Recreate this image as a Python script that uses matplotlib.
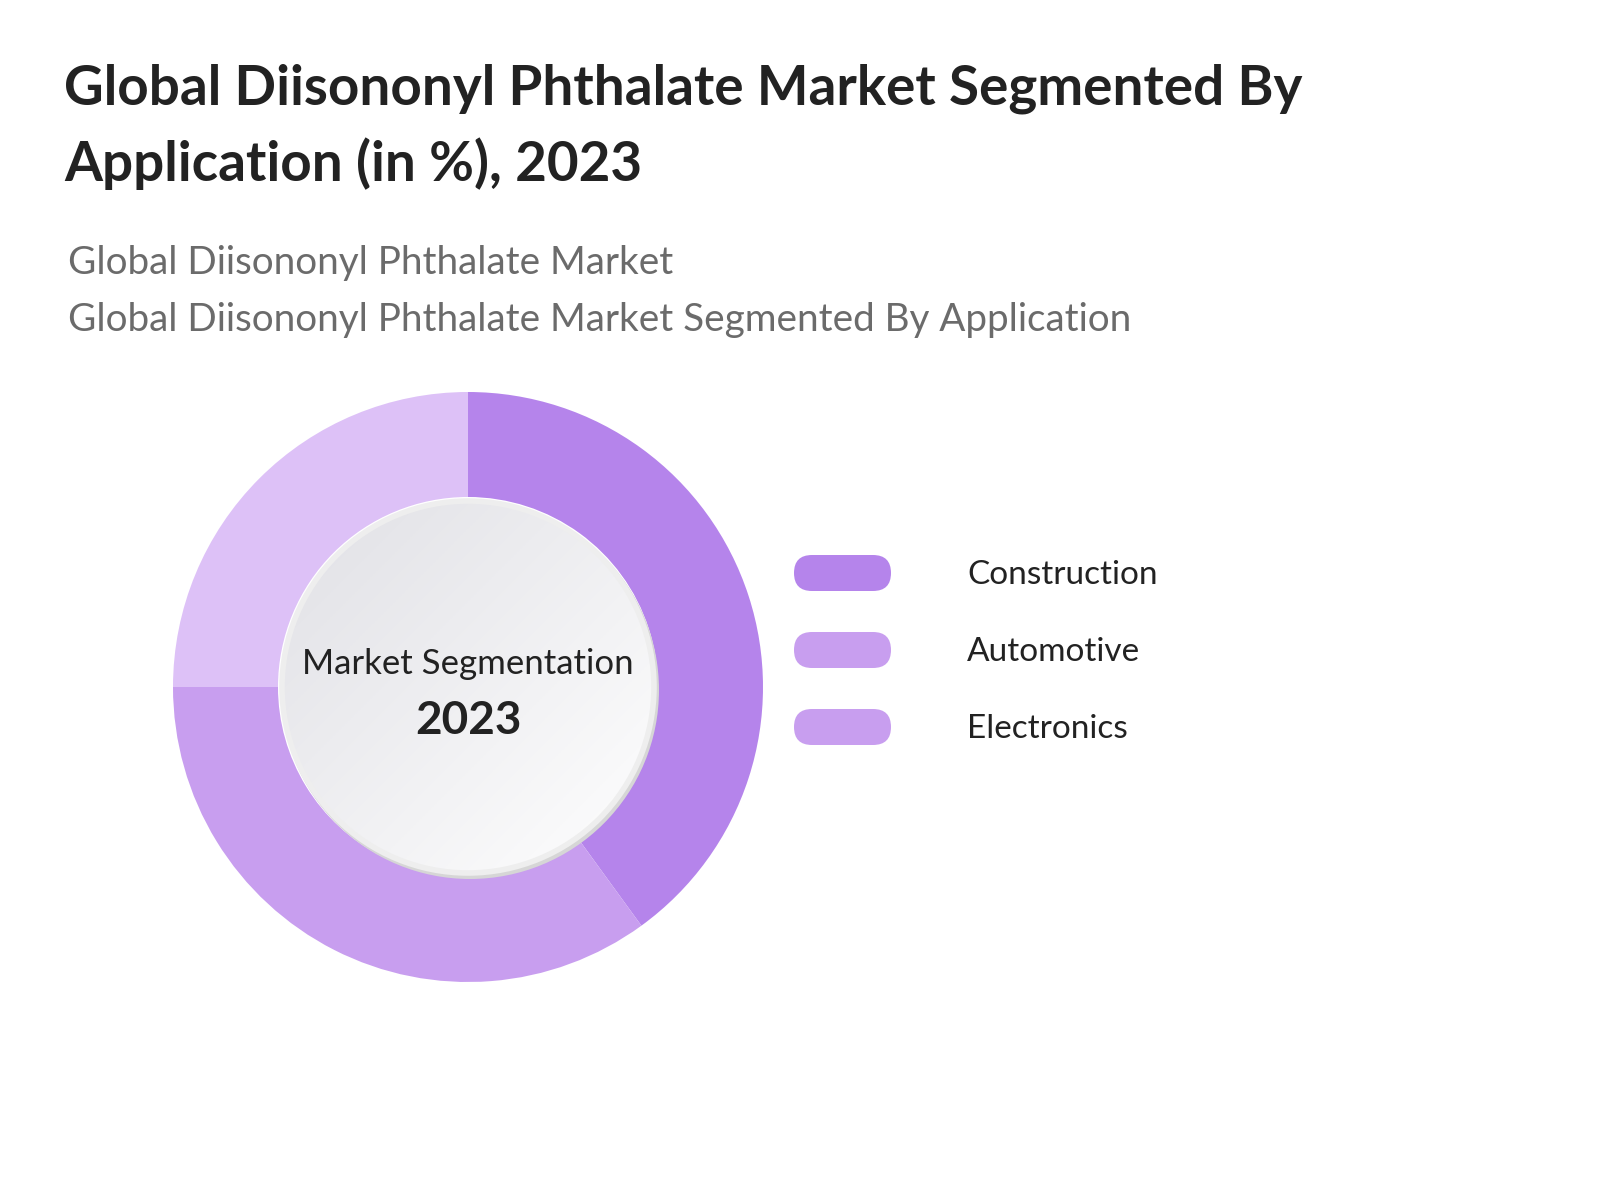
import numpy as np
import matplotlib.pyplot as plt
from matplotlib.colors import LinearSegmentedColormap
from matplotlib.patches import Circle, FancyBboxPatch

# chart values
categories = ["Construction", "Automotive", "Electronics"]
shares = [40, 35, 25]
slice_colors = ["#B584EB", "#C89EEF", "#DDC1F7"]
legend_colors = ["#B584EB", "#C89EEF", "#C89EEF"]

title_lines = ["Global Diisononyl Phthalate Market Segmented By",
               "Application (in %), 2023"]
subtitle_lines = ["Global Diisononyl Phthalate Market",
                  "Global Diisononyl Phthalate Market Segmented By Application"]
center_label = "Market Segmentation"
center_year = "2023"

plt.rcParams["font.family"] = ["Lato", "DejaVu Sans"]

W, H = 1600, 1200
fig = plt.figure(figsize=(16, 12), dpi=100)
ax = fig.add_axes([0, 0, 1, 1])


def py(y):
    # pixel row from the top -> data y
    return H - y


cx, cy = 468, py(687)
r_out, r_in = 295, 190

ax.pie(shares, colors=slice_colors, startangle=90, counterclock=False,
       center=(cx, cy), radius=r_out,
       wedgeprops=dict(width=r_out - r_in, linewidth=0))

# inner disc with soft gradient (grey top-left -> white bottom-right)
shadow = Circle((cx + 2, cy - 3), r_in - 1, facecolor="#d6d6d6", edgecolor="none", zorder=3)
ax.add_patch(shadow)
ring = Circle((cx, cy), r_in - 4, facecolor="none", edgecolor="#eeeeee", linewidth=4, zorder=5)
ax.add_patch(ring)
gx, gy = np.meshgrid(np.linspace(0, 1, 256), np.linspace(0, 1, 256))
grad = (gx + gy) / 2.0
cmap = LinearSegmentedColormap.from_list("g", ["#e0e0e5", "#ffffff"])
img = ax.imshow(grad, cmap=cmap, extent=(cx - r_in, cx + r_in, cy - r_in, cy + r_in),
                origin="upper", zorder=4, interpolation="bilinear")
img.set_clip_path(Circle((cx, cy), r_in - 5, transform=ax.transData))

ax.text(cx, py(664), center_label, ha="center", va="center", fontsize=25,
        color="#222222", zorder=6)
ax.text(cx, py(721), center_year, ha="center", va="center", fontsize=33,
        fontweight="bold", color="#222222", zorder=6)

# legend
for i, (name, col) in enumerate(zip(categories, legend_colors)):
    yc = py(573 + i * 77)
    box = FancyBboxPatch((794, yc - 18), 97, 36,
                         boxstyle="round,pad=0,rounding_size=18",
                         facecolor=col, edgecolor="none")
    ax.add_patch(box)
    ax.text(967, yc - 2, name, ha="left", va="center", fontsize=24, color="#222222")

# titles
for i, line in enumerate(title_lines):
    ax.text(64, py(105 + i * 76), line, ha="left", va="baseline", fontsize=39.4,
            fontweight="bold", color="#222222")
for i, line in enumerate(subtitle_lines):
    ax.text(68, py(274 + i * 57), line, ha="left", va="baseline", fontsize=27.8,
            color="#6b6b6b")

ax.set_xlim(0, W)
ax.set_ylim(0, H)
ax.set_aspect("equal")
ax.axis("off")

fig.savefig("out.png", dpi=100, facecolor="white")
